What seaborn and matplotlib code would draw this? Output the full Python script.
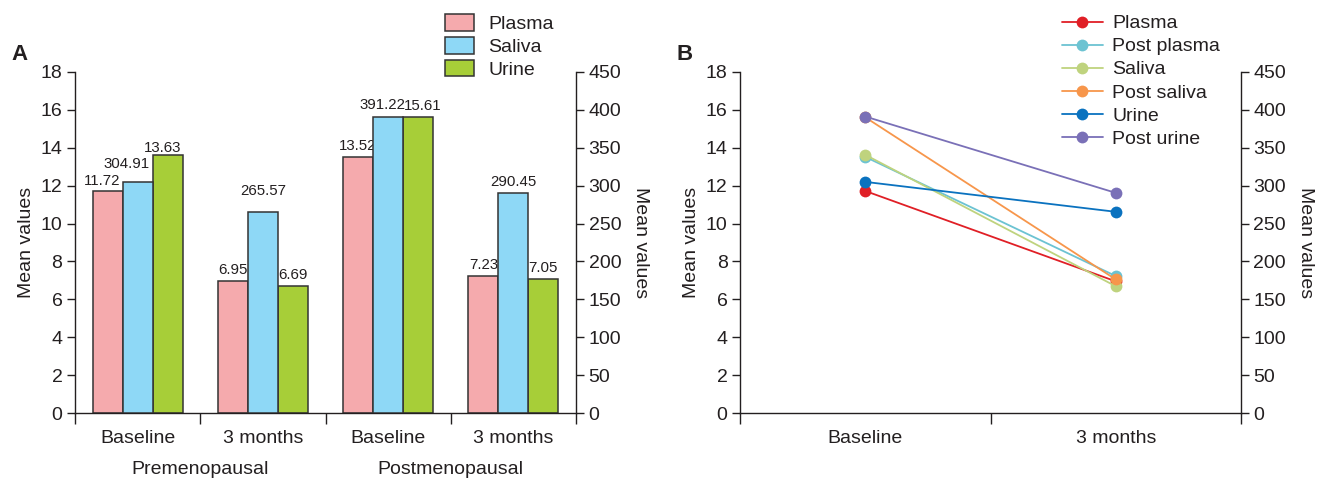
import numpy as np
import pandas as pd
import matplotlib
matplotlib.use("Agg")
import matplotlib.pyplot as plt
import seaborn as sns
from matplotlib.lines import Line2D
from matplotlib.patches import Patch
from matplotlib.ticker import FixedLocator

sns.set_theme(style="ticks")
plt.rcParams['font.family'] = ['Liberation Sans', 'DejaVu Sans']

# ---------------- data ----------------
groups = ["Premenopausal", "Postmenopausal"]
time_labels = ["Baseline", "3 months", "Baseline", "3 months"]
plasma = [11.72, 6.95, 13.52, 7.23]        # left axis
saliva = [304.91, 265.57, 391.22, 290.45]  # right axis
urine = [13.63, 6.69, 15.61, 7.05]         # left axis

line_x_labels = ["Baseline", "3 months"]
line_names = ["Plasma", "Post plasma", "Saliva", "Post saliva", "Urine", "Post urine"]
line_plasma = [11.72, 6.95]
line_post_plasma = [13.52, 7.23]
line_saliva = [13.63, 6.69]
line_post_saliva = [15.61, 7.05]
line_urine = [12.20, 10.62]
line_post_urine = [15.65, 11.62]

# ---------------- style ----------------
bar_colors = {"Plasma": "#F5AAAD", "Saliva": "#8ED8F6", "Urine": "#A7CE38"}
line_colors = ["#E01F26", "#6CC3D2", "#BFD37E", "#F7964B", "#0A72BF", "#7A70B7"]
sources = ["Plasma", "Saliva", "Urine"]
txt = "#231F20"
fs = 14
bw = 0.24

W, H = 1331, 482
fig = plt.figure(figsize=(W / 100, H / 100), dpi=100)
axA = fig.add_axes([75 / W, (H - 413) / H, 501 / W, 341 / H])
axB = fig.add_axes([740 / W, (H - 413) / H, 501 / W, 341 / H])


def style_axes(ax, ax2):
    for a in (ax, ax2):
        a.set_facecolor("none")
        a.spines["top"].set_visible(False)
        for s in a.spines.values():
            s.set_color(txt)
            s.set_linewidth(1.0)
        a.tick_params(axis="y", colors=txt, labelsize=fs, length=6, width=1, pad=3)
    ax.spines["right"].set_visible(False)
    ax2.spines["left"].set_visible(False)
    ax2.spines["bottom"].set_visible(False)
    ax.set_ylim(0, 18)
    ax.set_yticks(np.arange(0, 19, 2))
    ax2.set_ylim(0, 450)
    ax2.set_yticks(np.arange(0, 451, 50))
    ax.set_ylabel("Mean values", fontsize=fs, color=txt, labelpad=4)
    ax2.set_ylabel("Mean values", fontsize=fs, color=txt, rotation=270, labelpad=20)


# ---------------- Panel A ----------------
axA2 = axA.twinx()
idx = np.arange(len(plasma))
values = {"Plasma": plasma, "Saliva": saliva, "Urine": urine}
for j, src in enumerate(sources):
    a = axA2 if src == "Saliva" else axA
    d = pd.DataFrame({"pos": idx + (j - 1) * bw, "value": values[src]})
    sns.barplot(data=d, x="pos", y="value", native_scale=True, width=bw,
                color=bar_colors[src], saturation=1, edgecolor="#333333",
                linewidth=1.1, ax=a, errorbar=None)
for a in (axA, axA2):
    a.set_xlim(-0.5, 3.5)
style_axes(axA, axA2)
axA.set_xlabel("")
axA.set_xticks(idx)
axA.set_xticklabels(time_labels, fontsize=fs, color=txt)
axA.tick_params(axis="x", which="major", length=0, pad=12)
axA.xaxis.set_minor_locator(FixedLocator(np.arange(-0.5, 3.6, 1.0)))
axA.tick_params(axis="x", which="minor", length=8, width=1, color=txt, direction="out")

# value labels (offsets in points so they do not collide, as in the original)
lab_dx = {"Plasma": [-4, 0, 0, 0], "Saliva": [-8, 0, -4, 0], "Urine": [-4, 0, 3, 0]}
lab_dy = {"Plasma": [2, 3, 3, 3], "Saliva": [8, 10, 3, 3], "Urine": [0, 3, 3, 3]}
for j, src in enumerate(sources):
    a = axA2 if src == "Saliva" else axA
    for i, v in enumerate(values[src]):
        a.annotate(f"{v:.2f}", (i + (j - 1) * bw, v), xytext=(lab_dx[src][i], lab_dy[src][i]),
                   textcoords="offset points", ha="center", va="bottom", fontsize=10.8, color=txt)

for gi, g in enumerate(groups):
    axA.text(gi * 2 + 0.5, -0.165, g, transform=axA.get_xaxis_transform(),
             ha="center", va="center", fontsize=fs, color=txt)

handles = [Patch(facecolor=bar_colors[s], edgecolor="#333333", linewidth=1.1, label=s) for s in sources]
fig.legend(handles=handles, loc="upper left", bbox_to_anchor=(437 / W, 1 - 6 / H), frameon=False,
           fontsize=fs, handlelength=1.5, handleheight=0.95, labelspacing=0.2, handletextpad=0.75,
           borderaxespad=0, labelcolor=txt)
fig.text(11 / W, 1 - 55 / H, "A", fontsize=16, fontweight="bold", va="center", color=txt)

# ---------------- Panel B ----------------
series = [line_plasma, line_post_plasma, line_saliva, line_post_saliva, line_urine, line_post_urine]
dfl = pd.DataFrame({
    "x": [0, 1] * len(line_names),
    "value": [v for s in series for v in s],
    "series": [n for n in line_names for _ in range(2)],
})
axB2 = axB.twinx()
sns.lineplot(data=dfl, x="x", y="value", hue="series", hue_order=line_names,
             palette=line_colors, marker="o", markersize=8.5, markeredgewidth=0,
             linewidth=1.3, ax=axB, legend=False, sort=False)
axB.set_xlim(-0.5, 1.5)
axB2.set_xlim(-0.5, 1.5)
style_axes(axB, axB2)
axB.set_xlabel("")
axB.set_xticks([0, 1])
axB.set_xticklabels(line_x_labels, fontsize=fs, color=txt)
axB.tick_params(axis="x", which="major", length=0, pad=12)
axB.xaxis.set_minor_locator(FixedLocator([-0.5, 0.5, 1.5]))
axB.tick_params(axis="x", which="minor", length=8, width=1, color=txt, direction="out")

lh = [Line2D([0], [0], color=c, marker="o", markersize=8.5, markeredgewidth=0, linewidth=1.3, label=n)
      for n, c in zip(line_names, line_colors)]
fig.legend(handles=lh, loc="upper left", bbox_to_anchor=(1054 / W, 1 - 7 / H), frameon=False,
           fontsize=fs, handlelength=2.1, labelspacing=0.28, handletextpad=0.5,
           borderaxespad=0, labelcolor=txt)
fig.text(676 / W, 1 - 55 / H, "B", fontsize=16, fontweight="bold", va="center", color=txt)

fig.savefig("out.png", dpi=100)
